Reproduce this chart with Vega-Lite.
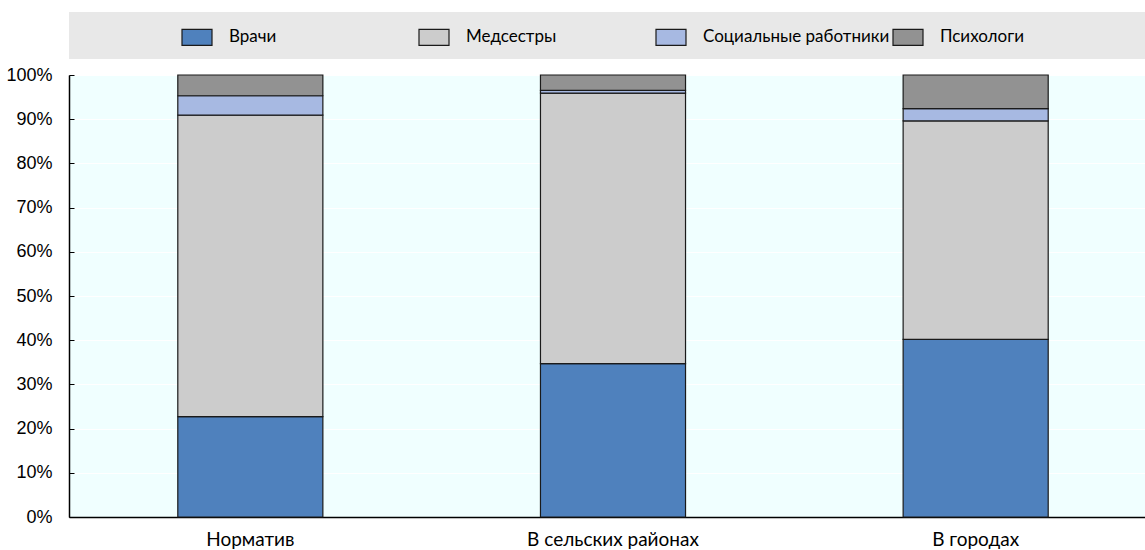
{
  "$schema": "https://vega.github.io/schema/vega-lite/v6.json",
  "padding": {"left": 5, "top": 12, "right": 0, "bottom": 0},
  "background": "#FFFFFF",
  "config": {
    "font": "Lato",
    "view": {"stroke": null}
  },
  "datasets": {
    "shares": [
      {"g": "Норматив", "cat": "Врачи", "k": 1, "v": 0.227},
      {"g": "Норматив", "cat": "Медсестры", "k": 2, "v": 0.682},
      {"g": "Норматив", "cat": "Социальные работники", "k": 3, "v": 0.044},
      {"g": "Норматив", "cat": "Психологи", "k": 4, "v": 0.047},
      {"g": "В сельских районах", "cat": "Врачи", "k": 1, "v": 0.347},
      {"g": "В сельских районах", "cat": "Медсестры", "k": 2, "v": 0.612},
      {"g": "В сельских районах", "cat": "Социальные работники", "k": 3, "v": 0.006},
      {"g": "В сельских районах", "cat": "Психологи", "k": 4, "v": 0.035},
      {"g": "В городах", "cat": "Врачи", "k": 1, "v": 0.402},
      {"g": "В городах", "cat": "Медсестры", "k": 2, "v": 0.494},
      {"g": "В городах", "cat": "Социальные работники", "k": 3, "v": 0.028},
      {"g": "В городах", "cat": "Психологи", "k": 4, "v": 0.076}
    ]
  },
  "vconcat": [
    {
      "width": 1083,
      "height": 47,
      "view": {"fill": "#E8E8E8", "stroke": null},
      "data": {"values": [{"t": ""}]},
      "mark": {"type": "text"},
      "encoding": {"text": {"field": "t"}}
    },
    {
      "width": 1088,
      "height": 442,
      "view": {"fill": "#F0FFFF", "stroke": "#808080", "strokeWidth": 1},
      "data": {"name": "shares"},
      "mark": {"type": "bar", "stroke": "#1A1A1A", "strokeWidth": 1.2, "opacity": 1},
      "encoding": {
        "x": {
          "field": "g",
          "type": "nominal",
          "sort": ["Норматив", "В сельских районах", "В городах"],
          "scale": {"paddingInner": 0.6, "paddingOuter": 0.3},
          "axis": {
            "title": null,
            "labelAngle": 0,
            "labelFont": "Lato",
            "labelFontSize": 19,
            "labelColor": "#000000",
            "labelPadding": 13,
            "ticks": false,
            "domainColor": "#000000",
            "domainWidth": 1.5,
            "grid": false
          }
        },
        "y": {
          "field": "v",
          "type": "quantitative",
          "stack": "zero",
          "scale": {"domain": [0, 1], "nice": false},
          "axis": {
            "title": null,
            "format": ".0%",
            "values": [0, 0.1, 0.2, 0.3, 0.4, 0.5, 0.6, 0.7, 0.8, 0.9, 1],
            "labelFont": "Liberation Sans",
            "labelFontSize": 18,
            "labelColor": "#000000",
            "tickSize": -5,
            "tickColor": "#000000",
            "labelPadding": 22,
            "domainColor": "#000000",
            "domainWidth": 1.5,
            "grid": true,
            "gridColor": "#FFFFFF",
            "gridWidth": 1
          }
        },
        "color": {
          "field": "cat",
          "type": "nominal",
          "scale": {
            "domain": ["Врачи", "Медсестры", "Социальные работники", "Психологи"],
            "range": ["#4F81BD", "#CCCCCC", "#A7B9E2", "#929292"]
          },
          "legend": {
            "title": null,
            "orient": "none",
            "direction": "horizontal",
            "columns": 4,
            "gridAlign": "all",
            "legendX": 112,
            "legendY": 9,
            "symbolType": "M-1,-0.53H1V0.53H-1Z",
            "symbolSize": 900,
            "symbolStrokeColor": "#1A1A1A",
            "symbolStrokeWidth": 1.2,
            "symbolOpacity": 1,
            "labelFont": "Lato",
            "labelFontSize": 17,
            "labelLimit": 400,
            "labelColor": "#000000",
            "labelOffset": 16,
            "columnPadding": 0
          }
        },
        "order": {"field": "k", "type": "quantitative"}
      }
    }
  ],
  "spacing": 6
}
